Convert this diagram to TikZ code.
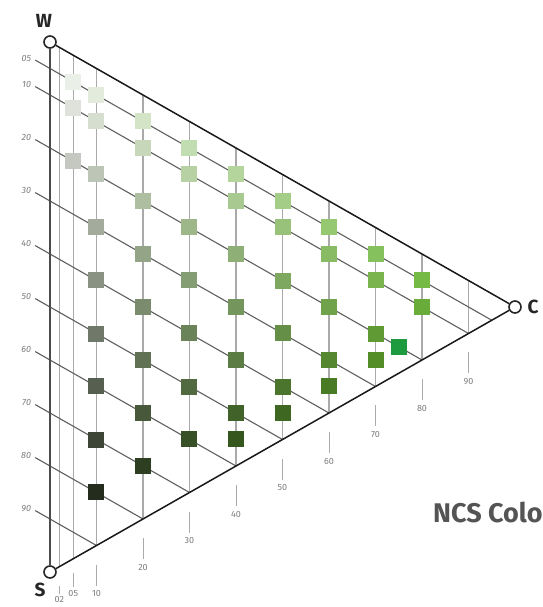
\documentclass[tikz,border=0pt]{standalone}
\usepackage{fontspec}
\setsansfont{Fira Sans}
\usepackage{xcolor}
\usetikzlibrary{calc, positioning}
\definecolor{ncsgreen}{RGB}{100,185,40}
\definecolor{ncsdeep}{RGB}{31,155,63}
\definecolor{gridgray}{RGB}{170,170,170}
\definecolor{linegray}{RGB}{95,95,95}
\definecolor{labelgray}{RGB}{125,125,125}

\begin{document}
\begin{tikzpicture}[x=1pt, y=-1pt,
    corner/.style={circle, draw=black!85, line width=1.6pt, fill=white, minimum size=12pt, inner sep=0pt},
    cornerlabel/.style={font=\sffamily\bfseries\fontsize{19}{19}\selectfont, text=black!85},
    edgeline/.style={line width=1.5pt, black!90},
    chroma/.style={gridgray, line width=1.1pt},
    blackline/.style={linegray, line width=1.1pt},
    scalelabel/.style={font=\sffamily\fontsize{9}{9}\selectfont, text=labelgray, inner sep=1pt},
    sample/.style={minimum size=16pt, inner sep=0pt}]
    \useasboundingbox (0,0) rectangle (542,607);
    \coordinate (w0) at (50,42);
    \coordinate (s0) at (50,572);
    \coordinate (c0) at (515,307);

    \foreach \c [evaluate=\c as \w using (100-\c)/100, evaluate=\c as \k using \c/100] in {2,5,10,20,30,40,50,60,70,80,90}
        \draw[chroma] (barycentric cs:w0=\w,c0=\k) -- (barycentric cs:s0=\w,c0=\k);

    \foreach \s/\lab [evaluate=\s as \r using (100-\s)/100, evaluate=\s as \b using \s/100] in {5/05,10/10,20/20,30/30,40/40,50/50,60/60,70/70,80/80,90/90} {
        \coordinate (bl-\s) at (barycentric cs:w0=\r,s0=\b);
        \coordinate (br-\s) at (barycentric cs:s0=\b,c0=\r);
        \coordinate (bt-\s) at ($(bl-\s)!-17pt!(br-\s)$);
        \draw[blackline] (bt-\s) -- (br-\s);
        \node[scalelabel, font=\sffamily\itshape\fontsize{9}{9}\selectfont, anchor=east, xshift=-3pt, yshift=2pt] (sl-\s) at (bt-\s) {\lab};
    }

    \foreach \c/\s in {5/5,5/10,5/20,
        10/5,10/10,10/20,10/30,10/40,10/50,10/60,10/70,10/80,
        20/5,20/10,20/20,20/30,20/40,20/50,20/60,20/70,
        30/5,30/10,30/20,30/30,30/40,30/50,30/60,
        40/5,40/10,40/20,40/30,40/40,40/50,40/55,
        50/5,50/10,50/20,50/30,50/40,50/45,
        60/5,60/10,60/20,60/30,60/35,
        70/5,70/10,70/20,70/25,
        80/5,80/10} {
        \pgfmathtruncatemacro\q{\c+\s}
        \pgfmathtruncatemacro\p{100*\c/(\c+\s)}
        \pgfmathsetmacro\w{(100-\c-\s)/100}
        \pgfmathsetmacro\b{\s/100}
        \pgfmathsetmacro\k{\c/100}
        \node[sample, fill=ncsgreen!\p!black!\q!white] (q-\c-\s) at (barycentric cs:w0=\w,s0=\b,c0=\k) {};
    }
    \node[sample, fill=ncsdeep] (q-75-20) at (barycentric cs:w0=0.05,s0=0.2,c0=0.75) {};

    \foreach \c [evaluate=\c as \w using (100-\c)/100, evaluate=\c as \k using \c/100] in {10,20,30,40,50,60,70,80,90} {
        \coordinate (e-\c) at (barycentric cs:s0=\w,c0=\k);
        \draw[chroma, line width=0.9pt] ($(e-\c)+(0,19)$) -- ($(e-\c)+(0,40)$);
        \node[scalelabel] (cl-\c) at ($(e-\c)+(0,48)$) {\c};
    }
    \coordinate (e-5) at (barycentric cs:s0=0.95,c0=0.05);
    \draw[chroma, line width=0.9pt] ($(e-5)+(0,14)$) -- ($(e-5)+(0,28)$);
    \node[scalelabel] (cl-5) at ($(e-5)+(0,35)$) {05};
    \coordinate (e-2) at (barycentric cs:s0=0.98,c0=0.02);
    \draw[chroma, line width=0.9pt] ($(e-2)+(0,19)$) -- ($(e-2)+(0,27)$);
    \node[scalelabel] (cl-2) at ($(e-2)+(0,33)$) {02};

    \node[corner] (W) at (w0) {};
    \node[corner] (S) at (s0) {};
    \node[corner] (C) at (c0) {};
    \draw[line width=2pt, black!70] (W) -- (S);
    \draw[edgeline] (W) -- (C);
    \draw[edgeline] (S) -- (C);

    \node[cornerlabel] (Wl) at (44,21) {W};
    \node[cornerlabel] (Sl) at (40,590) {S};
    \node[cornerlabel] (Cl) at (533,307) {C};

    \node[font=\sffamily\bfseries\fontsize{27}{27}\selectfont, text=black!67, anchor=base west, inner sep=0pt] (title) at (433,522) {NCS Colo};
\end{tikzpicture}
\end{document}
